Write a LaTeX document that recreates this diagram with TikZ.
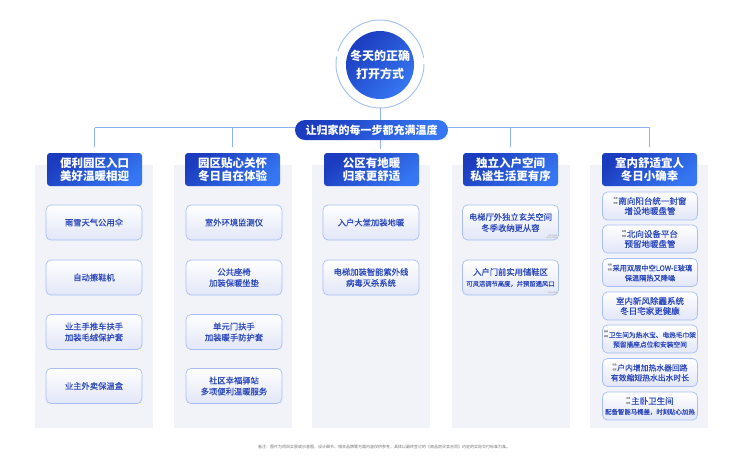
\documentclass[tikz,border=0pt]{standalone}
\usepackage{fontspec}
\setmainfont{Noto Sans CJK SC}
\newfontfamily\medfont[FakeBold=0.5]{Noto Sans CJK SC}
\usetikzlibrary{calc}
\definecolor{blueD}{HTML}{1B3CBE}
\definecolor{blueL}{HTML}{3676F2}
\definecolor{lineB}{HTML}{8FB1F3}
\definecolor{ringB}{HTML}{A9C4F7}
\definecolor{panelG}{HTML}{F2F3F8}
\definecolor{itemB}{HTML}{A7BFF5}
\definecolor{itemT}{HTML}{2B48BC}
\definecolor{itemS}{HTML}{E2E6F7}
\newcommand\smark{\textcolor{black!40}{\raisebox{0.6pt}{\fontsize{2}{2.2}\selectfont\shortstack{实景\\示意}}}\hspace{0.8pt}}

\tikzset{
	hdr/.style={rounded corners=3, top color=blueD, bottom color=blueL, shading angle=40,
		text=white, align=center, minimum width=95, minimum height=33, inner sep=0,
		font=\fontsize{11.5}{13}\selectfont\bfseries},
	itm/.style={rounded corners=5, draw=itemB, line width=0.7, top color=white, bottom color=itemS,
		text=itemT, align=center, minimum width=96, minimum height=35, inner sep=0,
		font=\medfont\fontsize{8.3}{11}\selectfont},
	itmsm/.style={itm, minimum width=95, minimum height=28, font=\medfont\fontsize{8.5}{10}\selectfont},
	link/.style={lineB, line width=0.8},
	tag/.style={anchor=south east, inner sep=1.5, align=right, text=black!35,
		font=\fontsize{1.8}{2.2}\selectfont}
}

\begin{document}
\begin{tikzpicture}[x=1pt, y=-1pt]
	\fill[white] (0,0) rectangle (740,467);
	\useasboundingbox (0,0) rectangle (740,467);

	% panels
	\foreach \cx in {94, 232.5, 371, 510.5, 649}
	\fill[panelG] (\cx-59,165) rectangle (\cx+59,428);

	% title circle
	\draw[ringB, line width=1] (380,64) ++(0:44) arc[start angle=0, end angle=190, radius=44];
	\draw[ringB, line width=1] (380,64) ++(197:44) arc[start angle=197, end angle=352, radius=44];
	\node[circle, minimum size=68, inner sep=0, top color=blueD, bottom color=blueL, shading angle=45,
		text=white, align=center, font=\fontsize{12}{18}\selectfont\bfseries] (title) at (380,65)
	{冬天的正确\\打开方式};
	\coordinate (ringS) at (380,108);
	\coordinate (hub) at (94,127.5);

	% headers
	\node[hdr] (hdrA) at (94.5,169.5) {便利园区入口\\美好温暖相迎};
	\node[hdr] (hdrB) at (232.5,169.5) {园区贴心关怀\\冬日自在体验};
	\node[hdr] (hdrC) at (371.5,169.5) {公区有地暖\\归家更舒适};
	\node[hdr] (hdrD) at (510.5,169.5) {独立入户空间\\私谧生活更有序};
	\node[hdr] (hdrE) at (649.5,169.5) {室内舒适宜人\\冬日小确幸};

	% connectors
	\draw[link] (hdrA.north |- hub) -- (hub -| ringS) -- (hdrE.north |- hub);
	\foreach \n in {A, B, D, E}
	\draw[link, shorten >=6] (hdr\n.north |- hub) -- (hdr\n.north);
	\draw[link, shorten >=4] (ringS) -- (ringS |- hdrC.north);

	\node[rounded corners=10, minimum width=153, minimum height=20, inner sep=0,
		top color=blueD, bottom color=blueL, shading angle=60, text=white,
		font=\fontsize{11}{13}\selectfont\bfseries] (motto) at (371.5,130) {让归家的每一步都充满温度};

	% column 1
	\node[itm] (itmA1) at (94,222.5) {雨雪天气公用伞};
	\node[itm] (itmA2) at (94,277.5) {自动擦鞋机};
	\node[itm] (itmA3) at (94,332) {业主手推车扶手\\加装毛绒保护套};
	\node[itm] (itmA4) at (94,386) {业主外卖保温盒};
	% column 2
	\node[itm] (itmB1) at (234,222.5) {室外环境监测仪};
	\node[itm] (itmB2) at (234,277.5) {公共座椅\\加装保暖坐垫};
	\node[itm] (itmB3) at (234,332) {单元门扶手\\加装暖手防护套};
	\node[itm] (itmB4) at (234,386) {社区幸福驿站\\多项便利温暖服务};
	% column 3
	\node[itm] (itmC1) at (371,222.5) {入户大堂加装地暖};
	\node[itm] (itmC2) at (371,277.5) {电梯加装智能紫外线\\病毒灭杀系统};
	% column 4
	\node[itm] (itmD1) at (510.5,222.5) {电梯厅外独立玄关空间\\冬季收纳更从容};
	\node[itm] (itmD2) at (510.5,277.5) {入户门前实用储鞋区\\{\fontsize{6.3}{8}\selectfont 可灵活调节高度，并预留通风口}};
	\node[tag] at (itmD1.south east) {效果示意图\\图片仅供参考};
	\node[tag] at (itmD2.south east) {效果示意图};
	% column 5
	\node[itmsm] (itmE1) at (650,206) {\smark 南向阳台统一封窗\\增设地暖盘管};
	\node[itmsm] (itmE2) at (650,239) {\smark 北向设备平台\\预留地暖盘管};
	\node[itmsm, font=\medfont\fontsize{7.2}{10}\selectfont] (itmE3) at (650,272.5) {\smark 采用双层中空LOW-E玻璃\\保温隔热又降噪};
	\node[itmsm] (itmE4) at (650,306) {室内新风除霾系统\\冬日宅家更健康};
	\node[itmsm, font=\medfont\fontsize{6.7}{9.5}\selectfont] (itmE5) at (650,339) {\smark 卫生间为热水宝、电热毛巾架\\预留插座点位和安装空间};
	\node[itmsm, font=\medfont\fontsize{7.8}{10}\selectfont] (itmE6) at (650,372.5) {\smark 户内增加热水器回路\\有效缩短热水出水时长};
	\node[itmsm] (itmE7) at (650,406) {\smark 主卧卫生间\\{\fontsize{6.4}{8}\selectfont 配备智能马桶盖，时刻贴心加热}};

	% footnote
	\node[text=black!55, font=\fontsize{4}{5}\selectfont] (note) at (384,447)
	{备注：图片为项目实景或示意图，设计细节、相关品牌等方面内容仅供参考，具体以最终签订的《商品房买卖合同》约定的实际交付标准为准。};
\end{tikzpicture}
\end{document}
